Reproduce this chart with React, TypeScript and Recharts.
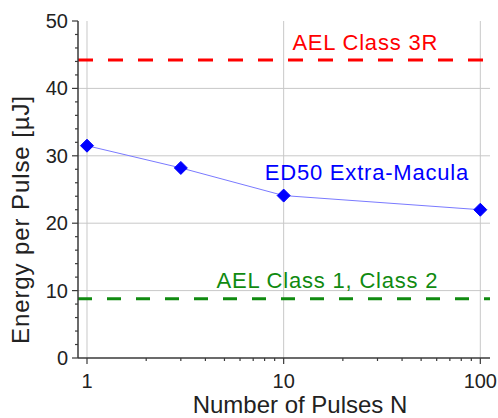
import {
  LineChart,
  Line,
  XAxis,
  YAxis,
  CartesianGrid,
  ReferenceLine,
  ReferenceDot,
  Label,
} from "recharts";

const pulses = [1, 3, 10, 100];
const ed50 = [31.5, 28.2, 24.1, 22.0];
const aelClass3R = 44.2;
const aelClass12 = 8.8;

const xMajor = [1, 10, 100];
const xMinor = [2, 3, 4, 5, 6, 7, 8, 9, 20, 30, 40, 50, 60, 70, 80, 90];
const yMajor = [0, 10, 20, 30, 40, 50];
const yMinor = [2, 4, 6, 8, 12, 14, 16, 18, 22, 24, 26, 28, 32, 34, 36, 38, 42, 44, 46, 48];

const data = pulses.map((n, i) => ({ n, e: ed50[i] }));

const FRAME = "#3a3a3a";
const GRID = "#c8c8c8";
const FONT = "'Liberation Sans', Arial, sans-serif";

const xTicks = [...xMajor, ...xMinor].sort((a, b) => a - b);
const yTicks = [...yMajor, ...yMinor].sort((a, b) => a - b);

function BottomTick({ x, y, payload }: any) {
  const major = xMajor.includes(payload.value);
  return (
    <g>
      <line x1={x} x2={x} y1={y} y2={y + (major ? 6 : 3)} stroke={FRAME} strokeWidth={1.2} />
      {major && (
        <text x={x} y={y + 30} textAnchor="middle" fontSize={20} fill="#222" fontFamily={FONT}>
          {payload.value}
        </text>
      )}
    </g>
  );
}

function TopTick({ x, y, payload }: any) {
  const major = xMajor.includes(payload.value);
  return <line x1={x} x2={x} y1={y} y2={y + (major ? 6 : 3)} stroke={FRAME} strokeWidth={1.2} />;
}

function LeftTick({ x, y, payload }: any) {
  const major = yMajor.includes(payload.value);
  return (
    <g>
      <line x1={x - (major ? 6 : 3)} x2={x} y1={y} y2={y} stroke={FRAME} strokeWidth={1.2} />
      {major && (
        <text x={x - 10} y={y + 7} textAnchor="end" fontSize={20} fill="#222" fontFamily={FONT}>
          {payload.value}
        </text>
      )}
    </g>
  );
}

function RightTick({ x, y, payload }: any) {
  const major = yMajor.includes(payload.value);
  return <line x1={x - (major ? 6 : 3)} x2={x} y1={y} y2={y} stroke={FRAME} strokeWidth={1.2} />;
}

function Diamond({ cx, cy }: any) {
  if (cx == null || cy == null) return null;
  const r = 6.5;
  return (
    <polygon
      points={`${cx},${cy - r} ${cx + r},${cy} ${cx},${cy + r} ${cx - r},${cy}`}
      fill="#0000ff"
      stroke="#0000ff"
    />
  );
}

function YTitle({ viewBox }: any) {
  const cx = viewBox.x + 20;
  const cy = viewBox.y + viewBox.height / 2 + 30;
  return (
    <text
      x={cx}
      y={cy}
      transform={`rotate(-90, ${cx}, ${cy})`}
      textAnchor="middle"
      dominantBaseline="central"
      fontSize={24}
      letterSpacing={0.9}
      fill="#222"
      fontFamily={FONT}
    >
      Energy per Pulse [µJ]
    </text>
  );
}

const labelStyle = { fontSize: 22, fontFamily: FONT, letterSpacing: 0.8 };

export default function App() {
  return (
    <div style={{ position: "absolute", left: 0, top: 0, background: "#fff" }}>
      <LineChart width={498} height={418} data={data} margin={{ top: 21, right: 8, left: 0, bottom: 0 }}>
        <CartesianGrid
          stroke={GRID}
          horizontalValues={[10, 20, 30, 40]}
          verticalValues={xMajor}
        />
        <XAxis
          dataKey="n"
          type="number"
          scale="log"
          domain={[0.9, 112]}
          allowDataOverflow
          ticks={xTicks}
          interval={0}
          tickSize={0}
          tickMargin={0}
          tickLine={false}
          tick={<BottomTick />}
          axisLine={{ stroke: FRAME, strokeWidth: 1.5 }}
          height={60}
        >
          <Label
            value="Number of Pulses N"
            position="insideBottom"
            offset={5}
            dx={16}
            fontSize={24}
            fill="#222"
            fontFamily={FONT}
          />
        </XAxis>
        <XAxis
          xAxisId="top"
          orientation="top"
          dataKey="n"
          type="number"
          scale="log"
          domain={[0.9, 112]}
          allowDataOverflow
          ticks={xTicks}
          interval={0}
          tickSize={0}
          tickMargin={0}
          tickLine={false}
          tick={<TopTick />}
          axisLine={{ stroke: FRAME, strokeWidth: 1.5 }}
          height={0}
        />
        <YAxis
          type="number"
          domain={[0, 50]}
          ticks={yTicks}
          interval={0}
          tickSize={0}
          tickMargin={0}
          tickLine={false}
          tick={<LeftTick />}
          axisLine={{ stroke: FRAME, strokeWidth: 1.5 }}
          width={78}
        >
          <Label content={<YTitle />} />
        </YAxis>
        <YAxis
          yAxisId="right"
          orientation="right"
          type="number"
          domain={[0, 50]}
          ticks={yTicks}
          interval={0}
          tickSize={0}
          tickMargin={0}
          tickLine={false}
          tick={<RightTick />}
          axisLine={{ stroke: FRAME, strokeWidth: 1.5 }}
          width={0}
        />
        <ReferenceLine y={aelClass3R} stroke="#ff0000" strokeWidth={3} strokeDasharray="15 15" />
        <ReferenceLine y={aelClass12} stroke="#108a10" strokeWidth={3} strokeDasharray="14 15" />
        <ReferenceDot
          x={26}
          y={46.9}
          r={0}
          fill="none"
          stroke="none"
          label={{ value: "AEL Class 3R", position: "center", fill: "#ff0000", ...labelStyle }}
        />
        <ReferenceDot
          x={26.5}
          y={27.6}
          r={0}
          fill="none"
          stroke="none"
          label={{ value: "ED50 Extra-Macula", position: "center", fill: "#0000ff", ...labelStyle }}
        />
        <ReferenceDot
          x={16.7}
          y={11.6}
          r={0}
          fill="none"
          stroke="none"
          label={{ value: "AEL Class 1, Class 2", position: "center", fill: "#108a10", ...labelStyle }}
        />
        <Line
          dataKey="e"
          stroke="#7a7aff"
          strokeWidth={1}
          dot={<Diamond />}
          activeDot={false}
          isAnimationActive={false}
        />
      </LineChart>
    </div>
  );
}
